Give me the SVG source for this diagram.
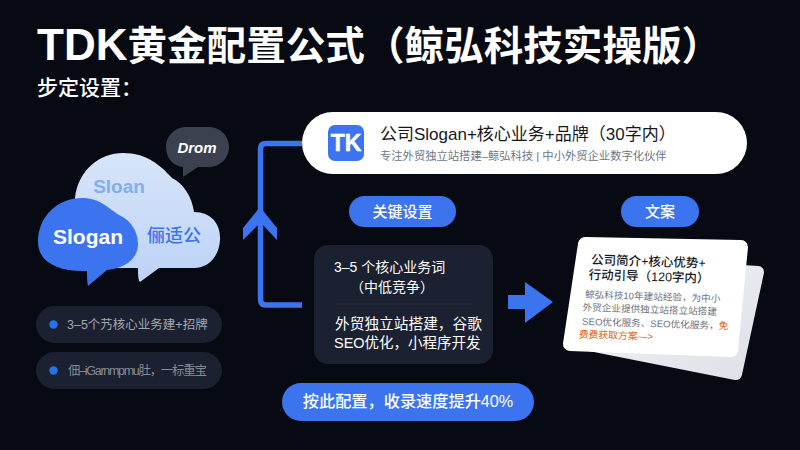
<svg xmlns="http://www.w3.org/2000/svg" width="800" height="450" viewBox="0 0 800 450">
<style>
text{font-family:"Liberation Sans","Noto Sans CJK SC",sans-serif}
.pill{fill:#3b74ee}
.w{fill:#fff}
.dark{fill:#1b2130}
.m{text-anchor:middle}
.grey{fill:#6f737e;font-size:9.600px}
.hint{fill:#a4a8b2;font-size:12.500px}
.kw{fill:#fff;font-size:14px}
</style>
<defs>
<linearGradient id="lg" x1="0" y1="0" x2="0" y2="1"><stop offset="0" stop-color="#d8e5f9"/><stop offset="1" stop-color="#bcd2f6"/></linearGradient>
<linearGradient id="bk" x1="0" y1="0" x2="1" y2="1"><stop offset="0" stop-color="#f2f3f7"/><stop offset="1" stop-color="#dfe1e8"/></linearGradient>
</defs>
<rect width="800" height="450" fill="#070a13"/>
<g id="title">
<text x="37" y="60" class="w" font-size="39.600" font-weight="700"><tspan font-size="44">TDK</tspan><tspan>黄金配置公式（鲸弘科技实操版）</tspan></text>
<text x="37" y="95" class="w" font-size="21" font-weight="500">步定设置：</text>
</g>
<g id="clouds">
<g id="cloud-light">
<path d="M75 198C78 170 100 153 123 153C147 153 160 165 172 178C184 184 192 197 194 212C212 212 221 225 220 240C219 256 209 268 194 268H159L140 282C138 280 138 274 138 268H110C88 268 74 240 75 198Z" fill="url(#lg)"/>
<text x="119" y="193" font-size="19" font-weight="700" fill="#82aef0" class="m">Sloan</text>
<text x="174" y="242" font-size="18" font-weight="500" fill="#3b74ee" class="m">俪适公</text>
</g>
<g id="cloud-blue">
<path d="M38 242C38 216 58 198 82 198C100 198 108 208 119 215C131 220 138 232 138 244C138 259 125 268 107 270L88 286C87 282 87 276 87 271C58 272 38 262 38 242Z" fill="#3b74ee"/>
<text x="88" y="244" class="w m" font-size="21" font-weight="700">Slogan</text>
</g>
<g id="cloud-drom">
<path d="M186 127H209C220 127 229 136 229 147C229 158 220 167 209 167H198L183 177V167C173 166 166 158 166 147C166 136 175 127 186 127Z" fill="#3c4150"/>
<text x="197" y="153" class="w m" font-size="15" font-weight="700" font-style="italic">Drom</text>
</g>
</g>
<g id="hint-1">
<rect x="36" y="306" width="186" height="37" rx="18.500" class="dark"/>
<circle cx="53.500" cy="324.500" r="4.200" fill="#2673f0"/>
<text x="67" y="329" class="hint">3–5个艿核心业务建+招牌</text>
</g>
<g id="hint-2">
<rect x="36" y="352" width="186" height="37" rx="18.500" class="dark"/>
<circle cx="53.500" cy="370.500" r="4.200" fill="#2673f0"/>
<text x="68" y="375" class="hint" textLength="139" fill-opacity=".8">佃–iGarnmpmu肚，一标重宝</text>
</g>
<g id="connectors">
<path d="M302 143.500H266Q260.500 143.500 260.500 149V299Q260.500 305 266 305H302" fill="none" stroke="#3b74ee" stroke-width="5.500"/>
<path d="M260 207L277 228V240L263 225H258L243 240V228Z" fill="#3b74ee"/>
<path d="M508 295H525V282L553 302L525 323V309H508Z" fill="#3b74ee"/>
</g>
<g id="brand">
<rect x="302" y="112" width="445" height="62" rx="31" class="w"/>
<rect x="328" y="125" width="36" height="36" rx="7" fill="#3b74ee"/>
<text x="346" y="151" class="w m" font-size="23" font-weight="700" stroke="#fff" stroke-width=".5">TK</text>
<text x="380" y="140" font-size="17" fill="#16181e">公司Slogan+核心业务+品牌（30字内）</text>
<text x="380" y="160" fill="#6f7480" font-size="11.300">专注外贸独立站搭建–鲸弘科技 | 中小外贸企业数字化伙伴</text>
</g>
<g id="label-key">
<rect x="349" y="196" width="107" height="31" rx="15.500" class="pill"/>
<text x="402.500" y="217" class="w m" font-size="15" font-weight="500">关键设置</text>
</g>
<g id="label-copy">
<rect x="621" y="196" width="78" height="31" rx="15.500" class="pill"/>
<text x="660" y="217" class="w m" font-size="15" font-weight="500">文案</text>
</g>
<g id="keywords">
<rect x="314" y="245" width="179" height="119" rx="14" class="dark"/>
<path d="M334 304H474" stroke="#232a39" stroke-width="1"/>
<text x="334" y="272" class="kw">3–5 个核心业务词</text>
<text x="350" y="292" class="kw">（中低竞争）</text>
<text x="335" y="329" class="kw" font-size="14.700" style="font-size:14.700px">外贸独立站搭建，谷歌</text>
<text x="334" y="348" class="kw" style="font-size:14.500px">SEO优化，小程序开发</text>
</g>
<g id="result">
<rect x="282" y="383" width="252" height="38" rx="19" class="pill"/>
<text x="408" y="407" class="w m" font-size="16.200" font-weight="500">按此配置，收录速度提升40%</text>
</g>
<g id="card">
<path d="M600 262L758 272L736 374L590 345Z" fill="url(#bk)" stroke="url(#bk)" stroke-width="12" stroke-linejoin="round"/>
<path d="M585 244L741 247L731 350L570 344Z" fill="#fff" stroke="#fff" stroke-width="14" stroke-linejoin="round"/>
<g transform="rotate(1.800 591 264)">
<text x="591" y="264" font-size="12.500" fill="#16181e" font-weight="500">公司简介+核心优势+</text>
<text x="589" y="279" font-size="12.500" fill="#16181e" font-weight="500">行动引导（120字内）</text>
<text x="586" y="298" class="grey">鲸弘科技10年建站经验，为中小</text>
<text x="584" y="311" class="grey">外贸企业提供独立站搭立站搭建</text>
<text x="584" y="325" class="grey">SEO优化服务、SEO优化服务，<tspan fill="#d9620e">免</tspan></text>
<text x="581" y="338" font-size="9.800" fill="#d9620e">费费获取方案—&gt;</text>
</g>
</g>
</svg>
